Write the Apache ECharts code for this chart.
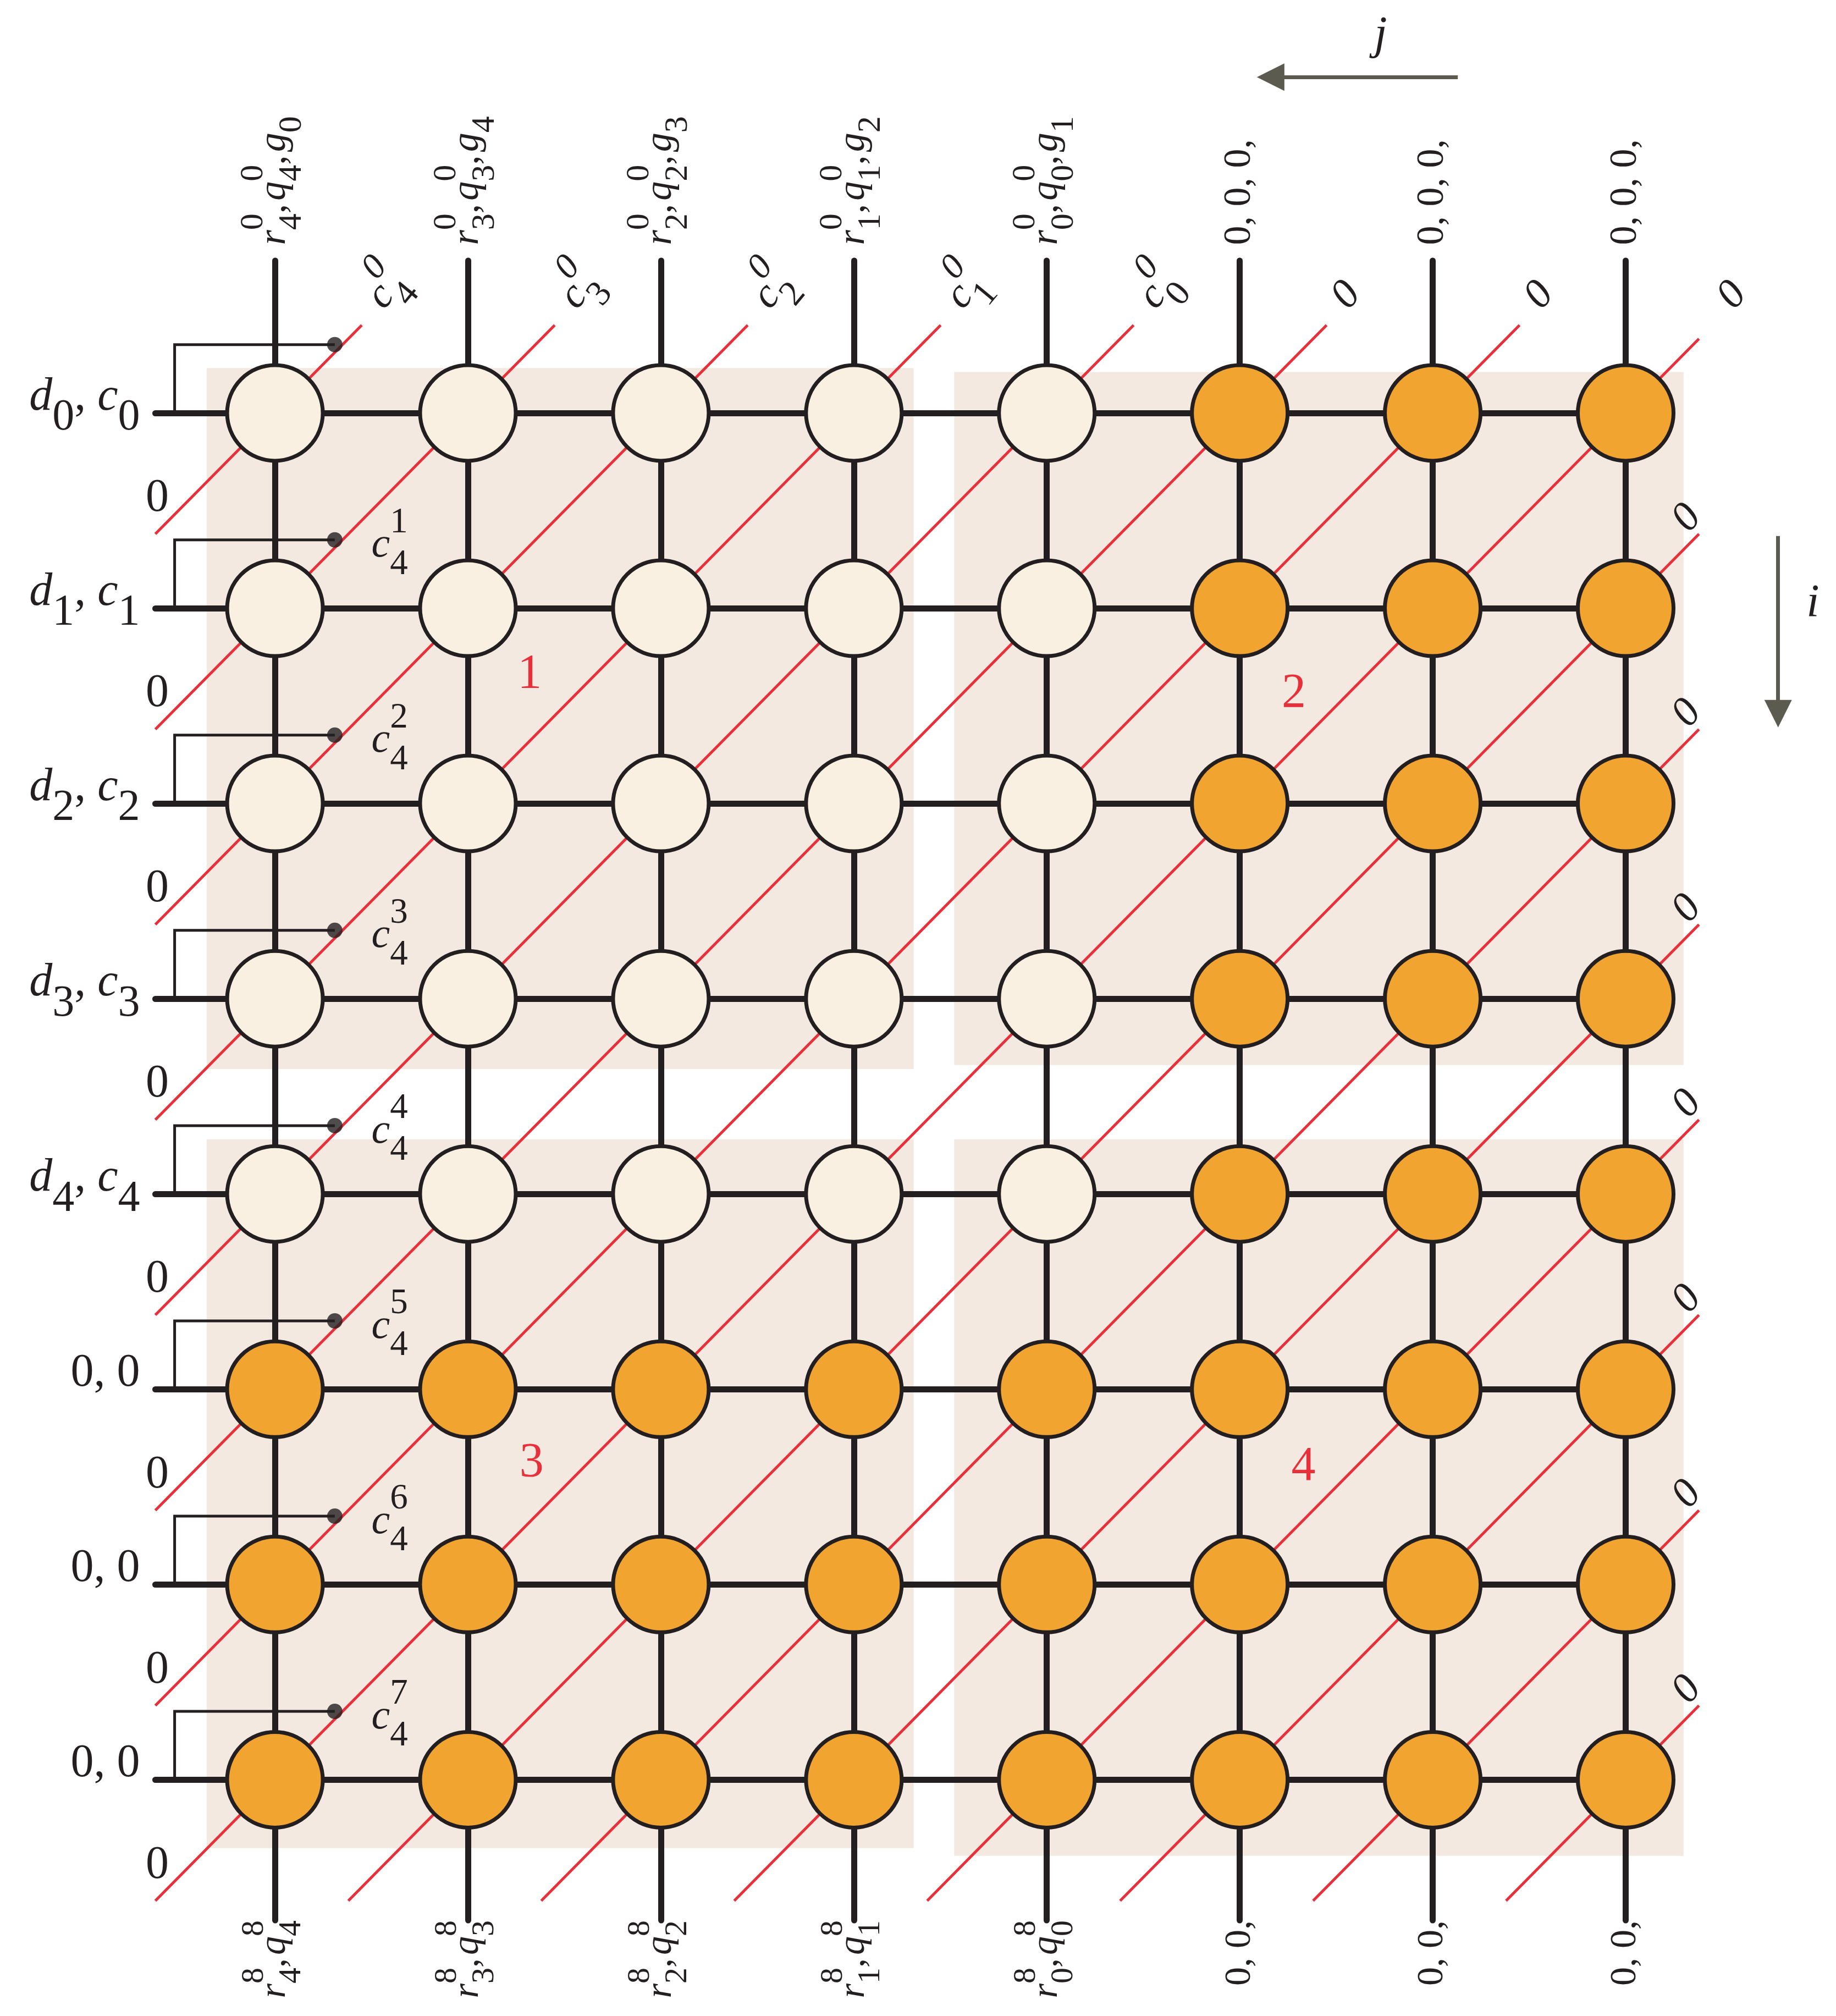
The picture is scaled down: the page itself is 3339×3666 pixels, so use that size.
<!DOCTYPE html>
<html><head><meta charset="utf-8">
<script src="https://cdn.jsdelivr.net/npm/echarts@6/dist/echarts.min.js"></script>
<style>html,body{margin:0;padding:0;background:#fff}#c{width:3339px;height:3666px}</style>
</head><body><div id="c"></div>
<script>
// ---- data ----
const nCols = 8, nRows = 8;
const lightRows = 5, lightCols = 5; // top-left block of light cells
const topLabels = [
  [['r','4','0'],[','],['q','4','0'],[','],['g','0']],
  [['r','3','0'],[','],['q','3','0'],[','],['g','4']],
  [['r','2','0'],[','],['q','2','0'],[','],['g','3']],
  [['r','1','0'],[','],['q','1','0'],[','],['g','2']],
  [['r','0','0'],[','],['q','0','0'],[','],['g','1']],
  [['0, 0, 0,']],[['0, 0, 0,']],[['0, 0, 0,']]
];
const bottomLabels = [
  [['r','4','8'],[','],['q','4','8']],
  [['r','3','8'],[','],['q','3','8']],
  [['r','2','8'],[','],['q','2','8']],
  [['r','1','8'],[','],['q','1','8']],
  [['r','0','8'],[','],['q','0','8']],
  [['0, 0,']],[['0, 0,']],[['0, 0,']]
];
const rowLabels = [
  [['d','0'],[', '],['c','0']],
  [['d','1'],[', '],['c','1']],
  [['d','2'],[', '],['c','2']],
  [['d','3'],[', '],['c','3']],
  [['d','4'],[', '],['c','4']],
  [['0, 0']],[['0, 0']],[['0, 0']]
];
const diagTopLabels = [
  [['c','4','0']],[['c','3','0']],[['c','2','0']],[['c','1','0']],[['c','0','0']],
  [['0']],[['0']],[['0']]
];
const feedbackLabels = ['1','2','3','4','5','6','7']; // c_4^k for rows 1..7
const blockNames = ['1','2','3','4'];

// ---- layout helpers ----
const C = {dark:'#231f20', red:'#e8303a', light:'#faf0e1', orange:'#f2a431', box:'#f4e9e0', arrow:'#5b5b4f'};
const FF = 'Liberation Serif, Times New Roman, serif';
const chart = echarts.init(document.getElementById('c'));

const rectData = [[-0.354,-0.23,3.31,3.36],[3.52,-0.21,7.3,3.34],[-0.354,3.72,3.31,7.35],[3.52,3.72,7.3,7.39]];
const circles = [];
for (let r=0;r<nRows;r++) for (let c=0;c<nCols;c++)
  circles.push({value:[c,r], itemStyle:{color:(r<lightRows&&c<lightCols)?C.light:C.orange}});
const blackLines = [], thinLines = [], dots = [], redLines = [];
for (let c=0;c<nCols;c++) blackLines.push({coords:[[c,-0.78],[c,7.72]]});
for (let r=0;r<nRows;r++){
  blackLines.push({coords:[[-0.62,r],[nCols-1,r]]});
  thinLines.push({coords:[[-0.52,r],[-0.52,r-0.35],[0.31,r-0.35]]});
  dots.push([0.31,r-0.35]);
}
for (let s=0;s<=14;s++){
  let x1=-0.62, y1=s+0.62; if (y1>7.62){y1=7.62;x1=s-7.62;}
  let x2=s+0.45, y2=-0.45; if (x2>7.38){x2=7.38;y2=s-7.38;}
  redLines.push({coords:[[x1,y1],[x2,y2]]});
}

chart.setOption({
  animation:false,
  grid:{left:0,right:0,top:0,bottom:0},
  xAxis:{type:'value',min:-1.425,max:8.09,show:false},
  yAxis:{type:'value',min:-2.115,max:8.21,inverse:true,show:false},
  series:[
    {type:'custom',z:1,silent:true,data:rectData,renderItem:(p,api)=>{
      const a=api.coord([api.value(0),api.value(1)]), b=api.coord([api.value(2),api.value(3)]);
      return {type:'rect',shape:{x:a[0],y:a[1],width:b[0]-a[0],height:b[1]-a[1]},style:{fill:C.box}};
    }},
    {type:'lines',coordinateSystem:'cartesian2d',z:2,data:redLines,lineStyle:{color:C.red,width:5,opacity:1}},
    {type:'lines',coordinateSystem:'cartesian2d',z:3,polyline:true,data:thinLines,lineStyle:{color:C.dark,width:5,opacity:1}},
    {type:'lines',coordinateSystem:'cartesian2d',z:3,data:blackLines,lineStyle:{color:C.dark,width:11,opacity:1,cap:'round'}},
    {type:'lines',coordinateSystem:'cartesian2d',z:3,data:[{coords:[[6.13,-1.72],[5.16,-1.72]]},{coords:[[7.79,0.63],[7.79,1.54]]}],
      symbol:['none','triangle'],symbolSize:[0,50],lineStyle:{color:C.arrow,width:7,opacity:1}},
    {type:'scatter',z:4,data:circles,symbolSize:174,itemStyle:{borderColor:C.dark,borderWidth:7,opacity:1}},
    {type:'scatter',z:5,data:dots,symbolSize:28,itemStyle:{color:C.dark}}
  ]
});

const mctx = document.createElement('canvas').getContext('2d');
function font(size, it){ return (it?'italic ':'')+size+'px '+FF; }
function tw(t,size,it){ mctx.font=font(size,it); return mctx.measureText(t).width; }
function isVar(t){ return /^[a-z]$/.test(t); }
function mathText(parts, o){
  const size=o.size||84, ss=o.ss||Math.round(size*0.85), fill=o.fill||C.dark;
  const items=[]; let x=0;
  parts.forEach(p=>{
    const b=p[0], sub=p[1], sup=p[2];
    const it = o.italic!==undefined ? o.italic : isVar(b);
    items.push({t:b,x:x,y:0,size:size,it:it}); x+=tw(b,size,it)+(b===','?6:0);
    let w=0;
    if (sub!=null){ items.push({t:sub,x:x,y:size*0.45,size:ss,it:false}); w=Math.max(w,tw(sub,ss,false)); }
    if (sup!=null){ const si=o.supItalic||false; items.push({t:sup,x:x,y:-size*0.55,size:ss,it:si}); w=Math.max(w,tw(sup,ss,si)); }
    x+=w;
  });
  const shift = o.align==='right'?-x:(o.align==='center'?-x/2:0);
  return {type:'group',x:o.px[0],y:o.px[1],rotation:o.rotation||0,z:100,
    children:items.map(i=>({type:'text',z:100,x:i.x+shift,y:i.y,style:{text:i.t,fontSize:i.size,fontFamily:FF,fontStyle:i.it?'italic':'normal',fill:fill,align:'left',verticalAlign:'middle'}}))};
}
const P = (x,y)=>chart.convertToPixel({gridIndex:0},[x,y]);
const g=[];
topLabels.forEach((l,c)=>{ const p=P(c,-0.86); g.push(mathText(l,{px:p,rotation:Math.PI/2,align:'left',size:70})); });
bottomLabels.forEach((l,c)=>{ const p=P(c,7.72); g.push(mathText(l,{px:p,rotation:Math.PI/2,align:'right',size:68})); });
rowLabels.forEach((l,r)=>{ const p=P(-0.7,r-0.08); g.push(mathText(l,{px:p,align:'right',size:84,ss:80})); });
for (let s=0;s<8;s++){ const p=P(-0.61,s+0.44); g.push(mathText([['0']],{px:p,align:'center',italic:false})); }
diagTopLabels.forEach((l,s)=>{ const p=P(s+0.52,-0.56);
  g.push(mathText(l,{px:p,rotation:Math.PI*0.28,align:'left',supItalic:true,italic:true,size:76})); });
for (let s=8;s<=14;s++){ const p=P(7.32,s-7.46); g.push(mathText([['0']],{px:p,rotation:Math.PI*0.28,align:'center',italic:true,size:76})); }
feedbackLabels.forEach((k,i)=>{ const r=i+1; const p=P(0.5,r-0.32); g.push(mathText([['c','4',k]],{px:p,align:'left',size:76})); });
[[1.32,1.34],[5.28,1.44],[1.33,5.38],[5.33,5.4]].forEach((q,i)=>{ const p=P(q[0],q[1]);
  g.push(mathText([[blockNames[i]]],{px:p,align:'center',italic:false,fill:C.red,size:88})); });
{ const p=P(5.73,-1.93); g.push(mathText([['j']],{px:p,align:'center'})); }
{ const p=P(7.97,0.98); g.push(mathText([['i']],{px:p,align:'center'})); }
chart.setOption({graphic:g});
</script></body></html>
